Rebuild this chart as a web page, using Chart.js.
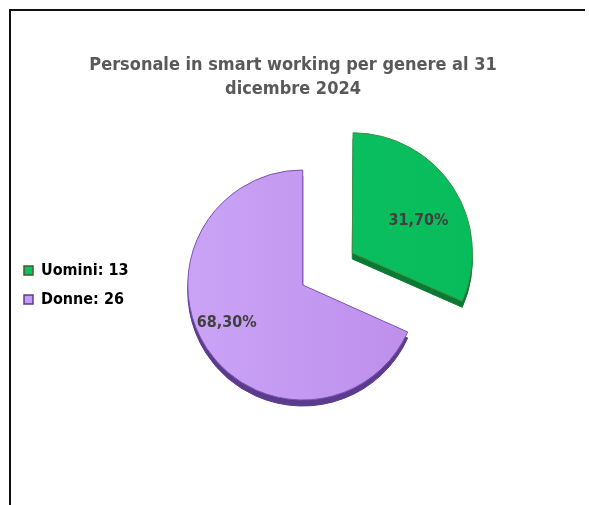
<!DOCTYPE html>
<html>
<head>
<meta charset="utf-8">
<script src="https://cdn.jsdelivr.net/npm/chart.js@4"></script>
<style>
  html, body { margin: 0; padding: 0; background: #fff; }
  #wrap { position: relative; width: 589px; height: 505px; overflow: hidden; }
  #frame { position: absolute; left: 9px; top: 9px; width: 574px; height: 520px;
           border-top: 2px solid #111; border-left: 2px solid #111; }
  canvas { position: absolute; left: 0; top: 0; }
</style>
</head>
<body>
<div id="wrap">
  <div id="frame"></div>
  <canvas id="genderChart" width="589" height="505"></canvas>
</div>
<script>
const titleLines = ["Personale in smart working per genere al 31", "dicembre 2024"];
const categories = ["Uomini", "Donne"];
const counts = [13, 26];
const percentages = [31.7, 68.3];

const topColors = ["#0bc15f", "#c49af2"];
const sideColors = ["#0a7a32", "#5b3b8c"];
const edgeColors = ["#3f8f45", "#7a52b2"];

const FONT = 'Tahoma, "DejaVu Sans Condensed", "DejaVu Sans", sans-serif';

// title drawn by hand so it stays centred on the whole frame, not on the pie area
const frameTitle = {
  id: "frameTitle",
  afterDraw(chart) {
    const ctx = chart.ctx;
    ctx.save();
    ctx.font = "bold 18px " + FONT;
    ctx.fillStyle = "#595959";
    ctx.textAlign = "center";
    ctx.textBaseline = "middle";
    titleLines.forEach((line, i) => ctx.fillText(line, 293, 65 + i * 24));
    ctx.restore();
  }
};

// darker copy of each slice drawn a bit lower, gives the 3D side
const depthPlugin = {
  id: "depth",
  beforeDatasetsDraw(chart) {
    const ctx = chart.ctx;
    chart.getDatasetMeta(0).data.forEach((arc, i) => {
      const opts = arc.options;
      arc.options = Object.assign({}, opts, {
        backgroundColor: sideColors[i],
        borderColor: sideColors[i]
      });
      ctx.save();
      ctx.translate(0, 6);
      arc.draw(ctx);
      ctx.restore();
      arc.options = opts;
    });
  }
};

const pctLabels = {
  id: "pctLabels",
  afterDatasetsDraw(chart) {
    const ctx = chart.ctx;
    ctx.save();
    ctx.font = "bold 16px " + FONT;
    ctx.fillStyle = "#404040";
    ctx.textAlign = "center";
    ctx.textBaseline = "middle";
    chart.getDatasetMeta(0).data.forEach((arc, i) => {
      const p = arc.getProps(["x", "y", "startAngle", "endAngle", "outerRadius"]);
      const mid = (p.startAngle + p.endAngle) / 2;
      const shift = (arc.options.offset || 0) / 4 * 0.8;
      const r = p.outerRadius * 0.74;
      const a = mid + 0.11;
      const txt = percentages[i].toFixed(2).replace(".", ",") + "%";
      ctx.fillText(txt,
        p.x + Math.cos(mid) * shift + Math.cos(a) * r,
        p.y + Math.sin(mid) * shift + Math.sin(a) * r);
    });
    ctx.restore();
  }
};

new Chart(document.getElementById("genderChart"), {
  type: "pie",
  data: {
    labels: categories,
    datasets: [{
      data: percentages,
      backgroundColor: (c) => {
        const area = c.chart.chartArea;
        if (!area) return topColors[c.dataIndex];
        const g = c.chart.ctx.createLinearGradient(area.left, 0, area.right, 0);
        if (c.dataIndex === 0) {
          g.addColorStop(0, "#0cc262");
          g.addColorStop(1, "#07bb5a");
        } else {
          g.addColorStop(0, "#cda8f9");
          g.addColorStop(1, "#ba8ae9");
        }
        return g;
      },
      borderColor: edgeColors,
      borderWidth: 1,
      offset: [236, 0]
    }]
  },
  options: {
    responsive: false,
    animation: false,
    events: [],
    radius: 115,
    layout: { padding: { left: 11, right: 122, top: 117, bottom: 52 } },
    plugins: {
      tooltip: { enabled: false },
      title: { display: false },
      legend: {
        position: "left",
        fullSize: false,
        labels: {
          boxWidth: 9,
          boxHeight: 9,
          padding: 13,
          color: "#404040",
          font: { family: FONT, size: 16, weight: "bold" },
          generateLabels: (chart) => categories.map((name, i) => ({
            text: name + ": " + counts[i],
            fillStyle: topColors[i],
            strokeStyle: i === 0 ? "#4a5a2a" : "#5b3b8c",
            lineWidth: 1.5,
            index: i
          }))
        }
      }
    }
  },
  plugins: [depthPlugin, pctLabels, frameTitle]
});
</script>
</body>
</html>
